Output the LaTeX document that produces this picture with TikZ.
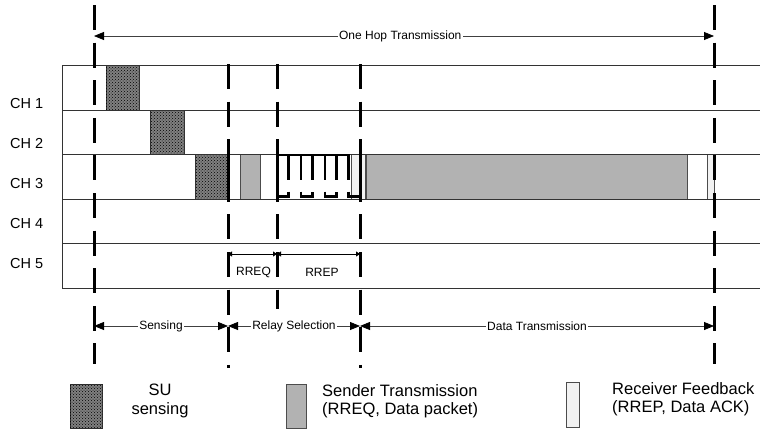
\documentclass[tikz,border=0pt]{standalone}
\usepackage{fontspec}
\setmainfont{Liberation Sans}
\usetikzlibrary{arrows.meta,patterns}
\begin{document}
\begin{tikzpicture}[x=1pt,y=-1pt,
  gridline/.style={draw=black!80,line width=1pt},
  vdash/.style={draw=black,line width=3pt,dash pattern=on 25pt off 12.6pt},
  thickseg/.style={draw=black,line width=2.6pt},
  sensebox/.style={fill=black!50,postaction={pattern=crosshatch dots,pattern color=black},draw=black!80,line width=0.6pt},
  sendbox/.style={fill=black!30,draw=black!70,line width=0.6pt},
  recvbox/.style={fill=black!5,draw=black!70,line width=0.6pt},
  dimarrow/.style={draw=black!75,line width=0.8pt,>={Triangle[length=10pt,width=8pt,color=black]},<->},
  smallarrow/.style={draw=black,line width=0.8pt,>={Triangle[length=4pt,width=5pt]},<->},
  smalllbl/.style={font=\fontsize{12pt}{14pt}\selectfont,inner sep=1.5pt},
  reqlbl/.style={font=\fontsize{12pt}{14pt}\selectfont,inner sep=0pt},
  chlbl/.style={font=\fontsize{14.5pt}{16pt}\selectfont,inner sep=0pt,anchor=west},
  leglbl/.style={font=\fontsize{16.5pt}{18.5pt}\selectfont,inner sep=0pt}
]
\useasboundingbox[fill=white] (0,0) rectangle (760,429);

% coordinates of the vertical markers
\coordinate (v1t) at (94,5);    \coordinate (v1b) at (94,364);
\coordinate (v2t) at (228,64);  \coordinate (v2b) at (228,368);
\coordinate (v3t) at (277,64);  \coordinate (v3b) at (277,309);
\coordinate (v4t) at (360,64);  \coordinate (v4b) at (360,368);
\coordinate (v5t) at (714,5);   \coordinate (v5b) at (714,364);

% channel blocks
\path[sensebox] (106,65.5) rectangle (139,110);
\path[sensebox] (150,110) rectangle (184,154.5);
\path[sensebox] (195.5,154.5) rectangle (228,199);
\path[sendbox] (240.7,154.5) rectangle (260.7,199);
\path[recvbox] (351,154.5) rectangle (365,199);
\path[sendbox] (366.5,154.5) rectangle (687.7,199);
\path[recvbox] (707.7,154.5) rectangle (714.5,199);

% channel grid
\foreach \y in {65.5,110,154.5,199,243.5,288} \draw[gridline] (62,\y) -- (760,\y);
\draw[gridline] (62,65.5) -- (62,288);

% RREP comb in CH 3
\foreach \x in {288.3,301,312.7,325,336.7,348.3} \draw[thickseg] (\x,154.5) -- (\x,180);
\draw[thickseg] (288.3,191.5) -- (288.3,196.7) -- (277,196.7);
\draw[thickseg] (301,191.5) -- (301,196.7) -- (312.7,196.7) -- (312.7,191.5);
\draw[thickseg] (325,191.5) -- (325,196.7) -- (336.7,196.7) -- (336.7,191.5);
\draw[thickseg] (348.3,191.5) -- (348.3,196.7) -- (360,196.7);
\draw[draw=black,line width=2pt] (277,155) -- (349.5,155);
\foreach \x in {228,277,360} \draw[draw=black,line width=3pt] (\x,154.5) -- (\x,199);

% dashed vertical markers
\draw[vdash] (v1t) -- (v1b);
\draw[vdash] (v2t) -- (v2b);
\draw[vdash] (v3t) -- (v3b);
\draw[vdash] (v4t) -- (v4b);
\draw[vdash] (v5t) -- (v5b);

% channel labels
\node[chlbl] (ch1) at (10,103.5) {CH 1};
\node[chlbl] (ch2) at (10,143.5) {CH 2};
\node[chlbl] (ch3) at (10,183.5) {CH 3};
\node[chlbl] (ch4) at (10,223.5) {CH 4};
\node[chlbl] (ch5) at (10,263.5) {CH 5};

% one hop arrow
\coordinate (a0) at (94,36); \coordinate (a1) at (714,36);
\draw[dimarrow] (a0) -- (a1) node[pos=0.494,smalllbl,fill=white] (oht) {One Hop Transmission};

% phase arrows
\coordinate (b1) at (94,326); \coordinate (b2) at (228,326);
\coordinate (b3) at (360,326); \coordinate (b4) at (714,326);
\draw[dimarrow] (b1) -- (b2) node[midway,smalllbl,fill=white] (sens) {Sensing};
\draw[dimarrow] (b2) -- (b3) node[midway,smalllbl,fill=white] (relay) {Relay Selection};
\draw[dimarrow] (b3) -- (b4) node[midway,smalllbl,fill=white] (datat) {Data Transmission};

% RREQ / RREP arrows
\coordinate (r1) at (228,254); \coordinate (r2) at (277,254); \coordinate (r3) at (360,254);
\draw[smallarrow] (r1) -- (r2);
\draw[smallarrow] (r2) -- (r3);
\node[reqlbl] (rreq) at (253.5,272.7) {RREQ};
\node[reqlbl] (rrep) at (322,272.7) {RREP};

% legend
\path[sensebox] (70,384) rectangle (102.7,428);
\node[leglbl,align=center] (lg1) at (160,401) {SU\\sensing};
\path[sendbox] (286,384) rectangle (306,428);
\node[leglbl,align=left,anchor=west] (lg2) at (322,401) {Sender Transmission\\(RREQ, Data packet)};
\path[recvbox] (566,382) rectangle (579,427);
\node[leglbl,align=left,anchor=west] (lg3) at (612,399) {Receiver Feedback\\(RREP, Data ACK)};
\end{tikzpicture}
\end{document}
